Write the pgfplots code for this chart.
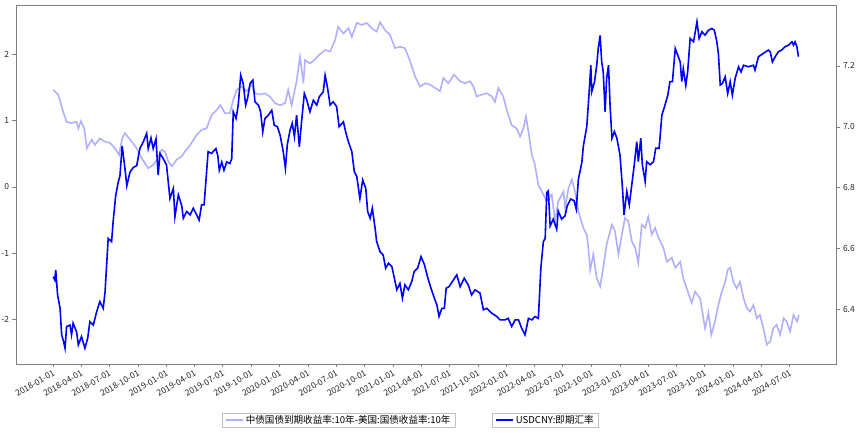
\documentclass[border=0pt]{standalone}
\usepackage{fontspec}
\setmainfont{Noto Sans CJK SC}
\usepackage{pgfplots}
\usepackage{pgfplotstable}
\pgfplotsset{compat=1.18}
\definecolor{lightb}{RGB}{176,176,255}
\definecolor{spine}{RGB}{128,128,128}

% x = days since 2018-01-01
\pgfplotstableread{
d v
1 1.46
17 1.39
33 1.13
44 0.98
60 0.96
76 0.98
82 0.88
90 0.99
101 0.88
109 0.58
125 0.71
135 0.63
151 0.73
168 0.68
184 0.66
200 0.58
213 0.48
223 0.73
232 0.81
254 0.68
270 0.58
286 0.43
307 0.28
323 0.33
339 0.43
350 0.56
361 0.53
372 0.38
383 0.31
399 0.41
415 0.46
425 0.53
442 0.63
463 0.78
479 0.86
495 0.88
511 1.08
528 1.16
540 1.23
554 1.11
570 1.11
581 1.31
592 1.46
608 1.51
624 1.44
640 1.54
651 1.41
667 1.39
683 1.41
699 1.36
715 1.26
732 1.23
748 1.26
758 1.46
769 1.23
785 1.59
796 1.96
807 1.56
812 1.91
828 1.86
844 1.92
858 1.99
877 2.06
893 2.04
909 2.21
919 2.41
936 2.31
952 2.39
963 2.26
979 2.47
995 2.44
1011 2.47
1027 2.39
1043 2.34
1054 2.48
1070 2.36
1086 2.29
1102 2.09
1118 2.11
1134 2.09
1151 1.89
1167 1.66
1183 1.51
1199 1.56
1215 1.54
1231 1.49
1247 1.44
1258 1.64
1274 1.56
1292 1.69
1312 1.59
1328 1.56
1344 1.59
1355 1.51
1365 1.36
1382 1.39
1398 1.41
1414 1.36
1424 1.28
1435 1.49
1451 1.36
1462 1.16
1478 0.93
1494 0.88
1505 0.76
1516 0.88
1524 1.06
1532 0.83
1543 0.48
1553 0.33
1564 0.03
1575 -0.07
1591 -0.22
1607 -0.12
1618 -0.52
1628 -0.22
1645 -0.07
1650 -0.32
1661 -0.02
1672 0.11
1682 -0.07
1693 -0.37
1709 -0.62
1720 -0.72
1725 -0.92
1731 -1.25
1741 -1.02
1752 -1.38
1763 -1.50
1773 -1.22
1784 -0.87
1801 -0.57
1811 -0.67
1822 -1.02
1833 -0.72
1843 -0.47
1854 -0.52
1865 -0.82
1876 -0.92
1886 -1.15
1897 -0.57
1908 -0.62
1918 -0.45
1929 -0.72
1940 -0.62
1951 -0.77
1967 -0.92
1978 -1.13
1994 -1.07
2005 -1.22
2021 -1.13
2031 -1.38
2042 -1.53
2058 -1.75
2069 -1.58
2085 -1.68
2101 -2.13
2112 -1.90
2121 -2.23
2133 -2.03
2144 -1.78
2155 -1.58
2166 -1.43
2174 -1.25
2182 -1.22
2192 -1.43
2203 -1.53
2214 -1.43
2225 -1.68
2236 -1.83
2246 -1.88
2257 -1.78
2268 -1.98
2278 -1.93
2289 -2.13
2300 -2.38
2311 -2.33
2321 -2.13
2332 -2.08
2343 -2.23
2354 -1.98
2364 -2.03
2375 -2.18
2386 -1.93
2397 -2.03
2404 -1.93
}\spread

\pgfplotstableread{
d v
1 6.507
6 6.496
9 6.529
15 6.447
23 6.403
28 6.316
33 6.299
39 6.272
44 6.343
55 6.348
60 6.316
65 6.354
76 6.326
82 6.283
92 6.310
103 6.272
112 6.305
119 6.359
130 6.348
141 6.392
151 6.425
162 6.403
168 6.458
178 6.633
189 6.622
194 6.688
202 6.772
210 6.816
216 6.839
223 6.937
232 6.863
238 6.806
248 6.850
259 6.866
270 6.872
280 6.928
291 6.950
302 6.978
307 6.928
316 6.963
323 6.928
332 6.960
339 6.841
345 6.912
355 6.896
366 6.874
377 6.764
388 6.797
393 6.704
404 6.776
415 6.740
420 6.699
431 6.721
442 6.710
452 6.732
463 6.710
471 6.693
479 6.743
487 6.743
500 6.918
511 6.912
525 6.928
531 6.906
536 6.857
544 6.884
551 6.857
560 6.884
570 6.879
576 6.895
581 7.049
590 7.027
597 7.071
605 7.169
613 7.142
621 7.071
627 7.093
635 7.142
644 7.153
651 7.082
662 7.071
669 7.049
676 6.983
683 7.027
694 7.038
705 7.054
713 7.005
723 7.000
732 6.972
742 6.918
749 6.863
755 6.940
764 6.989
771 7.011
778 6.967
785 7.038
794 6.934
801 7.016
810 7.109
818 7.087
828 7.049
839 7.087
850 7.071
858 7.098
871 7.115
877 7.169
885 7.126
893 7.071
903 7.082
914 7.066
922 7.000
936 7.016
943 6.983
952 6.950
963 6.918
971 6.852
979 6.836
989 6.764
998 6.825
1008 6.797
1014 6.721
1022 6.699
1029 6.732
1038 6.666
1043 6.622
1054 6.589
1064 6.578
1072 6.535
1081 6.551
1092 6.540
1100 6.502
1108 6.464
1118 6.485
1126 6.436
1134 6.480
1145 6.464
1156 6.491
1164 6.524
1175 6.535
1186 6.573
1197 6.546
1208 6.502
1218 6.469
1229 6.436
1237 6.414
1244 6.376
1253 6.403
1261 6.403
1267 6.469
1276 6.474
1287 6.491
1301 6.513
1312 6.474
1325 6.502
1338 6.480
1349 6.447
1360 6.464
1376 6.453
1387 6.398
1398 6.403
1414 6.387
1430 6.376
1441 6.365
1457 6.365
1467 6.370
1478 6.343
1489 6.365
1500 6.365
1510 6.338
1521 6.316
1532 6.370
1543 6.365
1553 6.376
1564 6.370
1572 6.535
1580 6.622
1586 6.633
1591 6.784
1596 6.789
1602 6.674
1612 6.696
1623 6.663
1628 6.723
1639 6.696
1650 6.707
1657 6.740
1668 6.762
1679 6.757
1686 6.729
1693 6.828
1704 6.882
1709 6.937
1720 7.000
1727 7.104
1733 7.202
1736 7.115
1745 7.148
1752 7.202
1757 7.257
1763 7.300
1768 7.213
1773 7.180
1779 7.049
1784 7.159
1790 7.202
1795 7.071
1801 6.962
1809 6.984
1817 6.962
1827 6.907
1835 6.798
1840 6.710
1849 6.787
1857 6.743
1865 6.809
1873 6.875
1881 6.951
1886 6.885
1894 6.962
1899 6.875
1908 6.820
1913 6.885
1924 6.875
1935 6.885
1942 6.929
1953 6.929
1962 7.038
1972 7.071
1981 7.104
1988 7.148
1996 7.148
2005 7.257
2013 7.235
2021 7.213
2026 7.148
2031 7.191
2039 7.136
2045 7.180
2053 7.290
2064 7.279
2075 7.345
2082 7.290
2091 7.312
2101 7.301
2112 7.317
2123 7.323
2131 7.317
2139 7.279
2144 7.240
2150 7.137
2157 7.142
2166 7.164
2174 7.109
2182 7.148
2189 7.104
2198 7.159
2209 7.197
2217 7.180
2225 7.202
2241 7.197
2257 7.202
2262 7.186
2273 7.230
2289 7.241
2305 7.252
2311 7.246
2318 7.213
2327 7.230
2337 7.246
2348 7.252
2359 7.263
2370 7.268
2381 7.279
2386 7.268
2391 7.279
2397 7.263
2402 7.230
}\usdcny

\begin{document}
\begin{tikzpicture}[x=1bp,y=1bp]
\pgfplotsset{
  base/.style={
    width=820bp, height=359bp, scale only axis,
    at={(0,0)}, anchor=south west,
    xmin=-119, xmax=2523,
    axis line style={spine},
    tick style={spine},
    tick align=outside,
    major tick length=3.5bp,
    tick label style={font=\fontsize{8.5}{9}\selectfont, text=black!85},
    /pgf/number format/assume math mode=true,
    legend style={draw=black!25, line width=0.5pt, font=\fontsize{9.6}{10}\selectfont,
      inner xsep=3bp, inner ysep=0bp, anchor=north west, legend cell align=left},
  }
}
\begin{axis}[base,
  ymin=-2.67, ymax=2.74,
  ytick={-2,-1,0,1,2},
  ytick pos=left, xtick pos=bottom,
  xtick={0,90,181,273,365,455,546,638,730,821,912,1004,1096,1186,1277,1369,1461,1551,1642,1734,1826,1916,2007,2099,2191,2282,2373},
  xticklabels={2018-01-01,2018-04-01,2018-07-01,2018-10-01,2019-01-01,2019-04-01,2019-07-01,2019-10-01,2020-01-01,2020-04-01,2020-07-01,2020-10-01,2021-01-01,2021-04-01,2021-07-01,2021-10-01,2022-01-01,2022-04-01,2022-07-01,2022-10-01,2023-01-01,2023-04-01,2023-07-01,2023-10-01,2024-01-01,2024-04-01,2024-07-01},
  xticklabel style={rotate=30, anchor=north east, inner sep=1.5bp},
  legend style={at={(axis description cs:0.2512,-0.137)}},
]
\addplot[lightb, line width=1.6bp] table[x=d,y=v]{\spread};
\addlegendentry{中债国债到期收益率:10年-美国:国债收益率:10年}
\end{axis}
\begin{axis}[base,
  axis x line=none,
  axis y line*=right,
  ymin=6.22, ymax=7.40,
  ytick={6.4,6.6,6.8,7.0,7.2},
  yticklabel style={/pgf/number format/fixed, /pgf/number format/fixed zerofill, /pgf/number format/precision=1},
  legend style={at={(axis description cs:0.5805,-0.137)}},
]
\addplot[blue, line width=1.6bp] table[x=d,y=v]{\usdcny};
\addlegendentry{USDCNY:即期汇率}
\end{axis}
\pgfresetboundingbox
\useasboundingbox (-16,-69) rectangle (849,364);
\end{tikzpicture}
\end{document}
